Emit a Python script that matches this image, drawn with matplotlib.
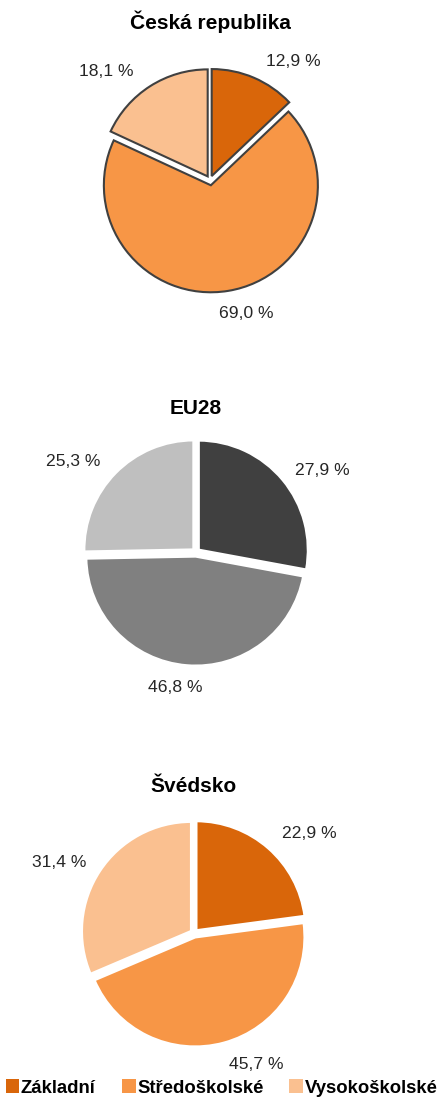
import numpy as np
import matplotlib.pyplot as plt

plt.rcParams['font.family'] = ['Liberation Sans', 'DejaVu Sans']

categories = ['Základní', 'Středoškolské', 'Vysokoškolské']
titles = ['Česká republika', 'EU28', 'Švédsko']
cz_values = [12.9, 69.0, 18.1]
eu_values = [27.9, 46.8, 25.3]
se_values = [22.9, 45.7, 31.4]

orange = ['#D9660A', '#F79646', '#FAC090']
grey = ['#404040', '#808080', '#BFBFBF']

W, H = 438, 1108
fig = plt.figure(figsize=(W / 100, H / 100), dpi=100)

R = 107  # one data unit in px
LIM = 1.7


def draw_pie(values, colors, cx, cy, radius, title, title_y, edge, lw, explode, ldist):
    # axes placed so that the pie centre lands at (cx, cy) image px
    size = 2 * LIM * R
    ax = fig.add_axes([(cx - size / 2) / W, (H - cy - size / 2) / H, size / W, size / H])
    wedges, texts = ax.pie(values, colors=colors, startangle=90, counterclock=False,
                           explode=explode, radius=radius,
                           labels=[f'{v:.1f} %'.replace('.', ',') for v in values],
                           labeldistance=1.0,
                           wedgeprops=dict(edgecolor=edge, linewidth=lw),
                           textprops=dict(fontsize=12.6, color='#262626'))
    # move labels out along each wedge's mid angle (distance, angle shift)
    for w, t, (d, shift) in zip(wedges, texts, ldist):
        ang = np.deg2rad((w.theta1 + w.theta2) / 2 + shift)
        t.set_position((d * np.cos(ang), d * np.sin(ang)))
        t.set_ha('center')
        t.set_va('center')
    ax.set_xlim(-LIM, LIM)
    ax.set_ylim(-LIM, LIM)
    ax.set_aspect('equal')
    ax.axis('off')
    fig.text(cx / W, 1 - title_y / H, title, ha='center', va='center',
             fontsize=15, fontweight='bold')
    return wedges


draw_pie(cz_values, orange, 210, 180, 1.0, titles[0], 22, '#404040', 1.5,
         (0.04, 0.05, 0.04), [(1.35, -12), (1.29, 6), (1.40, 11)])
draw_pie(eu_values, grey, 196, 552, 1.025, titles[1], 408, 'white', 2.0,
         (0.03, 0.04, 0.03), [(1.40, -7), (1.28, -4), (1.43, 8)])
draw_pie(se_values, orange, 194, 933, 1.025, titles[2], 787, 'white', 2.0,
         (0.03, 0.04, 0.03), [(1.42, -8), (1.36, 10), (1.42, 6)])

handles = [plt.Rectangle((0, 0), 1, 1, facecolor=c) for c in orange]
fig.legend(handles, categories, loc='center', bbox_to_anchor=(221.5 / W, 1 - 1088 / H),
           ncol=3, frameon=False, handlelength=0.75, handleheight=0.75,
           handletextpad=0.08, columnspacing=1.4,
           prop=dict(size=13.3, weight='bold'))

fig.savefig('out.png', dpi=100)
